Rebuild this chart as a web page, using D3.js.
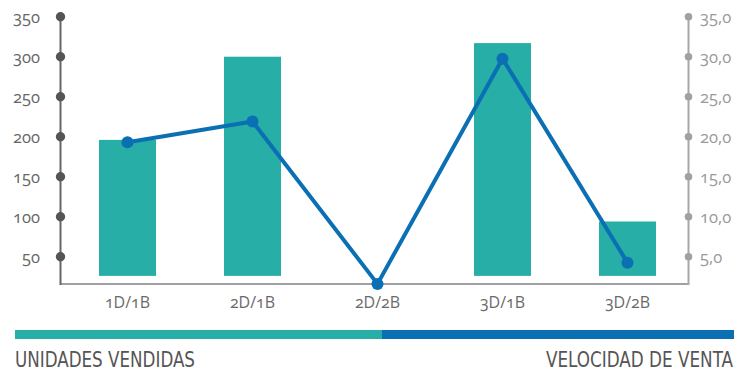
<!DOCTYPE html>
<html><head><meta charset="utf-8">
<script src="https://cdn.jsdelivr.net/npm/d3@7"></script>
<style>
body{margin:0;background:#fff;}
svg{display:block;}
.tick-l{font-family:"Open Sans",sans-serif;font-size:16.5px;fill:#666;font-variant-numeric:oldstyle-nums;}
.tick-r{font-family:"Open Sans",sans-serif;font-size:16.5px;fill:#9a9a9a;font-variant-numeric:oldstyle-nums;}
.cat{font-family:"Open Sans",sans-serif;font-size:16px;fill:#6a6a6a;font-variant-numeric:oldstyle-nums;}
.leg{font-family:"Liberation Sans Narrow","DejaVu Sans Condensed","Liberation Sans",sans-serif;font-size:20.5px;fill:#555;}
</style></head>
<body>
<svg id="c" width="752" height="371"></svg>
<script>
const categories = ["1D/1B","2D/1B","2D/2B","3D/1B","3D/2B"];
const unidades = [196, 300, 0, 317, 94];
const velocidad = [19.3, 21.9, 1.6, 29.75, 4.25];
const leftTicks = [50,100,150,200,250,300,350];
const rightTicks = [5,10,15,20,25,30,35];
const legendLabels = ["UNIDADES VENDIDAS","VELOCIDAD DE VENTA"];

const teal = "#27aea6", blue = "#0b6fb4";
const svg = d3.select("#c");
const xc = d3.scalePoint().domain(categories).range([127.5,627.5]);
const yL = d3.scaleLinear().domain([0,350]).range([296.7,16.7]);
const yR = d3.scaleLinear().domain([0,35]).range([296.7,16.7]);
const barBase = 26;
const axisY = 284, leftX = 60.5, rightX = 688.5;

// bars
svg.append("g").selectAll("rect").data(categories.map((c,i)=>({c,v:unidades[i]})).filter(d=>d.v>0))
  .join("rect")
  .attr("x", d=>xc(d.c)-28.5).attr("width",57)
  .attr("y", d=>yL(d.v)).attr("height", d=>yL(barBase)-yL(d.v))
  .attr("fill", teal);

// x axis line
svg.append("line").attr("x1",leftX).attr("x2",rightX).attr("y1",axisY).attr("y2",axisY)
  .attr("stroke","#a0a0a0").attr("stroke-width",2);

// left axis
svg.append("line").attr("x1",leftX).attr("x2",leftX).attr("y1",yL(350)).attr("y2",axisY+1)
  .attr("stroke","#666").attr("stroke-width",2);
const gl = svg.append("g");
gl.selectAll("circle").data(leftTicks).join("circle")
  .attr("cx",leftX).attr("cy",d=>yL(d)).attr("r",4.7).attr("fill","#555");
gl.selectAll("text").data(leftTicks).join("text").attr("class","tick-l")
  .attr("x",40).attr("y",d=>yL(d)).attr("dy","0.36em").attr("text-anchor","end").text(d=>d);

// right axis
svg.append("line").attr("x1",rightX).attr("x2",rightX).attr("y1",yR(35)).attr("y2",axisY+1)
  .attr("stroke","#a8a8a8").attr("stroke-width",2);
const fmt = d3.formatLocale({decimal:",",thousands:".",grouping:[3],currency:["",""]}).format(".1f");
const gr = svg.append("g");
gr.selectAll("circle").data(rightTicks).join("circle")
  .attr("cx",rightX).attr("cy",d=>yR(d)).attr("r",3.8).attr("fill","#a0a0a0");
gr.selectAll("text").data(rightTicks).join("text").attr("class","tick-r")
  .attr("x",700).attr("y",d=>yR(d)).attr("dy","0.36em").text(d=>fmt(d));

// category labels
svg.append("g").selectAll("text").data(categories).join("text").attr("class","cat")
  .attr("x",d=>xc(d)).attr("y",308).attr("text-anchor","middle").text(d=>d);

// line
const pts = categories.map((c,i)=>[xc(c), yR(velocidad[i])]);
svg.append("path").attr("d", d3.line()(pts)).attr("fill","none")
  .attr("stroke",blue).attr("stroke-width",4).attr("stroke-linejoin","round");
svg.append("g").selectAll("circle").data(pts).join("circle")
  .attr("cx",d=>d[0]).attr("cy",d=>d[1]).attr("r",6).attr("fill",blue);

// legend
svg.append("rect").attr("x",15).attr("y",330).attr("width",367).attr("height",9).attr("fill",teal);
svg.append("rect").attr("x",382).attr("y",330).attr("width",352).attr("height",9).attr("fill",blue);
svg.append("text").attr("class","leg").attr("x",15).attr("y",366.5)
  .attr("textLength",180).attr("lengthAdjust","spacingAndGlyphs").text(legendLabels[0]);
svg.append("text").attr("class","leg").attr("x",546).attr("y",366.5)
  .attr("textLength",187).attr("lengthAdjust","spacingAndGlyphs").text(legendLabels[1]);
</script>
</body></html>
